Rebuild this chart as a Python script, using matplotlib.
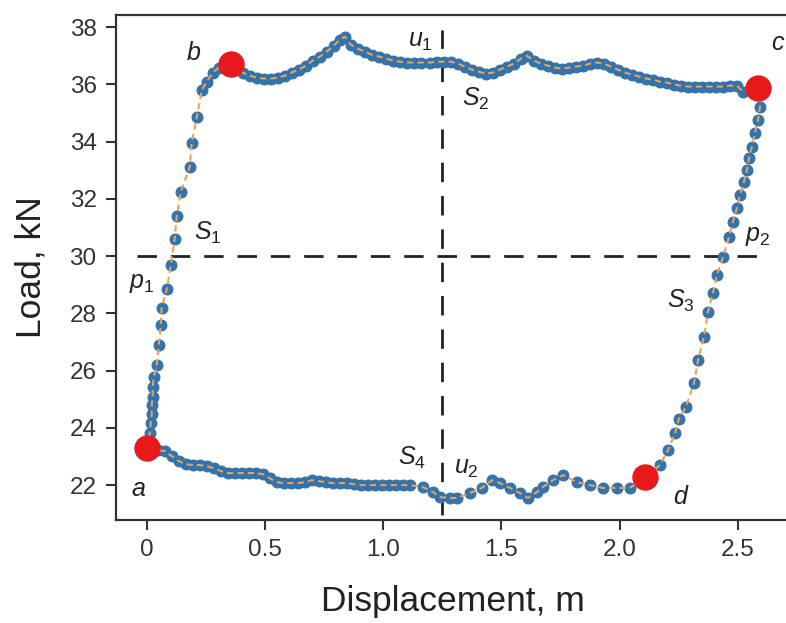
import matplotlib
matplotlib.use("Agg")
import matplotlib.pyplot as plt

plt.rcParams['font.family'] = ['Liberation Sans', 'DejaVu Sans']
plt.rcParams['mathtext.fontset'] = 'custom'
plt.rcParams['mathtext.it'] = 'Liberation Sans:italic'
plt.rcParams['mathtext.rm'] = 'Liberation Sans'

# S1: a -> b (loading)
s1_x = [0.000, 0.013, 0.017, 0.021, 0.021, 0.025, 0.025, 0.030, 0.042, 0.051,
        0.059, 0.063, 0.085, 0.102, 0.118, 0.127, 0.144, 0.182, 0.190, 0.212,
        0.233, 0.254, 0.279, 0.305]
s1_y = [23.30, 23.82, 24.17, 24.48, 24.80, 25.08, 25.43, 25.78, 26.20, 26.90,
        27.59, 28.19, 28.85, 29.69, 30.60, 31.41, 32.24, 33.12, 33.96, 34.87,
        35.81, 36.09, 36.41, 36.58]

# S2: b -> c (top)
s2_x = [0.355, 0.406, 0.436, 0.465, 0.495, 0.525, 0.554, 0.584, 0.613, 0.643,
        0.673, 0.702, 0.732, 0.761, 0.791, 0.816, 0.838, 0.863, 0.893, 0.922,
        0.952, 0.981, 1.011, 1.041, 1.070, 1.100, 1.129, 1.159, 1.197, 1.227,
        1.256, 1.286, 1.316, 1.345, 1.375, 1.404, 1.434, 1.464, 1.493, 1.523,
        1.552, 1.582, 1.607, 1.637, 1.667, 1.696, 1.726, 1.755, 1.785, 1.815,
        1.844, 1.874, 1.904, 1.933, 1.963, 1.992, 2.022, 2.052, 2.081, 2.111,
        2.140, 2.170, 2.200, 2.229, 2.259, 2.288, 2.318, 2.348, 2.377, 2.407,
        2.437, 2.466, 2.496, 2.521]
s2_y = [36.72, 36.41, 36.30, 36.23, 36.20, 36.20, 36.23, 36.30, 36.41, 36.51,
        36.65, 36.83, 36.97, 37.14, 37.35, 37.56, 37.66, 37.38, 37.24, 37.14,
        37.03, 36.97, 36.90, 36.83, 36.79, 36.76, 36.76, 36.76, 36.76, 36.79,
        36.79, 36.79, 36.72, 36.62, 36.51, 36.44, 36.37, 36.41, 36.51, 36.62,
        36.72, 36.90, 37.00, 36.83, 36.72, 36.65, 36.58, 36.55, 36.58, 36.62,
        36.65, 36.72, 36.76, 36.72, 36.62, 36.51, 36.41, 36.34, 36.27, 36.20,
        36.16, 36.09, 36.06, 35.99, 35.95, 35.92, 35.92, 35.92, 35.92, 35.92,
        35.92, 35.95, 35.95, 35.74]

# S3: c -> d (unloading)
s3_x = [2.585, 2.593, 2.585, 2.572, 2.559, 2.547, 2.538, 2.525, 2.508, 2.496,
        2.479, 2.462, 2.437, 2.411, 2.394, 2.373, 2.356, 2.331, 2.314, 2.280,
        2.250, 2.234, 2.204, 2.170]
s3_y = [35.88, 35.22, 34.76, 34.31, 33.82, 33.43, 33.01, 32.59, 32.13, 31.69,
        31.20, 30.67, 29.97, 29.34, 28.71, 28.05, 27.17, 26.37, 25.57, 24.73,
        24.31, 23.82, 23.22, 22.70]

# S4: d -> a (bottom)
s4_x = [2.107, 2.043, 1.988, 1.929, 1.874, 1.819, 1.760, 1.717, 1.675, 1.650,
        1.612, 1.578, 1.536, 1.493, 1.459, 1.417, 1.366, 1.311, 1.282, 1.239,
        1.210, 1.168, 1.113, 1.083, 1.053, 1.024, 0.994, 0.964, 0.935, 0.905,
        0.876, 0.846, 0.816, 0.787, 0.757, 0.728, 0.698, 0.668, 0.639, 0.609,
        0.580, 0.550, 0.520, 0.491, 0.461, 0.431, 0.402, 0.372, 0.343, 0.313,
        0.283, 0.254, 0.224, 0.195, 0.165, 0.135, 0.106, 0.076, 0.047, 0.000]
s4_y = [22.28, 21.90, 21.90, 21.90, 22.00, 22.10, 22.35, 22.17, 21.93, 21.76,
        21.55, 21.72, 21.90, 22.07, 22.17, 21.90, 21.72, 21.55, 21.55, 21.58,
        21.76, 21.93, 22.00, 22.00, 22.00, 22.00, 22.00, 22.00, 22.00, 22.00,
        22.03, 22.07, 22.07, 22.07, 22.10, 22.14, 22.17, 22.10, 22.07, 22.07,
        22.07, 22.10, 22.24, 22.38, 22.42, 22.42, 22.42, 22.42, 22.42, 22.49,
        22.59, 22.66, 22.70, 22.70, 22.73, 22.84, 23.01, 23.19, 23.22, 23.30]

# corner points a, b, c, d
corner_x = [0.000, 0.355, 2.585, 2.107]
corner_y = [23.30, 36.72, 35.88, 22.28]

u_line = 1.25
p_line = 30.0

disp = s1_x + s2_x + s3_x + s4_x
load = s1_y + s2_y + s3_y + s4_y

fig = plt.figure(figsize=(7.86, 6.23), dpi=100)
ax = fig.add_axes([0.1476, 0.1653, 0.8575, 0.8106])

ax.plot(disp, load, 'o', color='#2f74b3', markersize=7.8,
        markeredgecolor='#3b6e9c', markeredgewidth=0.8, zorder=3)
ax.plot(disp, load, '--', color='#f0a050', linewidth=1.5, dashes=(3, 2), zorder=4)
ax.plot(corner_x, corner_y, 'o', color='#e8191b', markersize=18, zorder=5)

ax.plot([u_line, u_line], [20.95, 37.9], color='#222222', lw=2, dashes=(7, 5), zorder=2)
ax.plot([-0.04, 2.58], [p_line, p_line], color='#222222', lw=2, dashes=(7, 5), zorder=2)

fs = 18
lbl = dict(fontsize=fs, ha='center', va='center', color='#222222')
ax.text(-0.035, 21.85, 'a', style='italic', **lbl)
ax.text(0.20, 37.1, 'b', style='italic', **lbl)
ax.text(2.665, 37.45, 'c', style='italic', **lbl)
ax.text(2.255, 21.6, 'd', style='italic', **lbl)
ax.text(1.155, 37.5, r'$u_{\mathrm{1}}$', **lbl)
ax.text(1.39, 35.5, r'$S_{\mathrm{2}}$', **lbl)
ax.text(0.26, 30.8, r'$S_{\mathrm{1}}$', **lbl)
ax.text(-0.02, 29.05, r'$p_{\mathrm{1}}$', **lbl)
ax.text(2.585, 30.7, r'$p_{\mathrm{2}}$', **lbl)
ax.text(2.26, 28.45, r'$S_{\mathrm{3}}$', **lbl)
ax.text(1.12, 22.95, r'$S_{\mathrm{4}}$', **lbl)
ax.text(1.35, 22.6, r'$u_{\mathrm{2}}$', **lbl)

ax.set_xlim(-0.13, 2.72)
ax.set_ylim(20.78, 38.42)
ax.set_xticks([0, 0.5, 1.0, 1.5, 2.0, 2.5])
ax.set_xticklabels(['0', '0.5', '1.0', '1.5', '2.0', '2.5'])
ax.set_yticks([22, 24, 26, 28, 30, 32, 34, 36, 38])
ax.tick_params(labelsize=17.5, length=7, width=1.5, color='#333333',
               labelcolor='#333333', pad=7)
for side in ['left', 'bottom', 'top', 'right']:
    ax.spines[side].set_linewidth(1.6)
    ax.spines[side].set_color('#333333')

ax.set_xlabel('Displacement, m', fontsize=25.5, labelpad=17, color='#222222')
ax.set_ylabel('Load, kN', fontsize=25.5, labelpad=16, color='#222222')

fig.savefig('out.png', dpi=100)
